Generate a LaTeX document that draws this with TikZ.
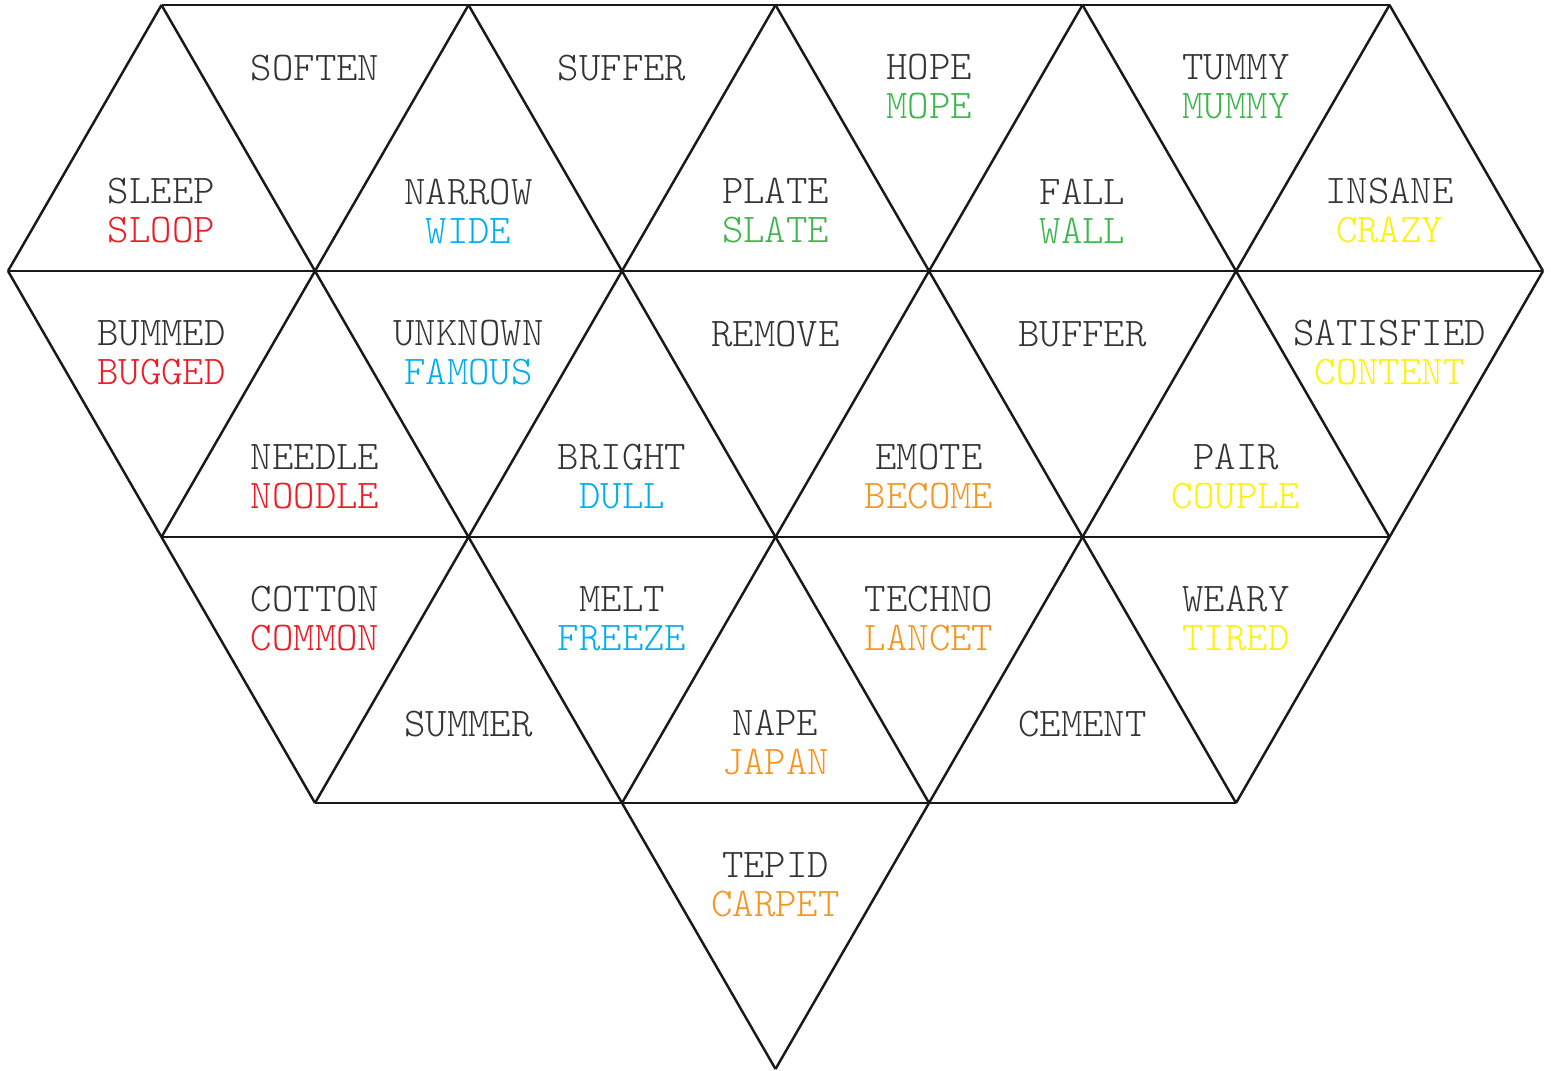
\documentclass[tikz,border=0pt]{standalone}
\usepackage{xcolor}
\usepackage{tikz}

\definecolor{wordgray}{HTML}{333333}
\definecolor{wred}{HTML}{ED1C24}
\definecolor{wblue}{HTML}{00AEEF}
\definecolor{wgreen}{HTML}{3DB54A}
\definecolor{worange}{HTML}{F7941D}
\definecolor{wyellow}{HTML}{FFF200}

\newcommand{\wordpair}[3]{#1\\\textcolor{#3}{#2}}

\tikzset{
    edge/.style={draw=black!90, line width=0.7pt},
    word/.style={align=center, inner sep=0pt, text=wordgray,
        font=\ttfamily\fontseries{l}\fontsize{11.6}{11.1}\selectfont}
}

\begin{document}
\begin{tikzpicture}
    \useasboundingbox (0,0) rectangle (15.51,10.70);

    % Lineas horizontales
    \draw[edge] (1.615,10.65) -- (13.895,10.65);
    \draw[edge] (0.08,7.99) -- (15.43,7.99);
    \draw[edge] (1.615,5.33) -- (13.895,5.33);
    \draw[edge] (3.15,2.67) -- (12.36,2.67);

    % Diagonales hacia abajo a la derecha
    \draw[edge] (1.615,10.65) -- (7.755,0.01);
    \draw[edge] (4.685,10.65) -- (9.29,2.67);
    \draw[edge] (7.755,10.65) -- (12.36,2.67);
    \draw[edge] (10.825,10.65) -- (13.895,5.33);
    \draw[edge] (13.895,10.65) -- (15.43,7.99);
    \draw[edge] (0.08,7.99) -- (3.15,2.67);

    % Diagonales hacia abajo a la izquierda
    \draw[edge] (1.615,10.65) -- (0.08,7.99);
    \draw[edge] (4.685,10.65) -- (1.615,5.33);
    \draw[edge] (7.755,10.65) -- (3.15,2.67);
    \draw[edge] (10.825,10.65) -- (6.22,2.67);
    \draw[edge] (13.895,10.65) -- (7.755,0.01);
    \draw[edge] (15.43,7.99) -- (12.36,2.67);

    % Primera fila
    \node[word] (sleep) at (1.615,8.59) {\wordpair{SLEEP}{SLOOP}{wred}};
    \node[word] (soften) at (3.15,10.02) {SOFTEN};
    \node[word] (narrow) at (4.685,8.59) {\wordpair{NARROW}{WIDE}{wblue}};
    \node[word] (suffer) at (6.22,10.02) {SUFFER};
    \node[word] (plate) at (7.755,8.59) {\wordpair{PLATE}{SLATE}{wgreen}};
    \node[word] (hope) at (9.29,9.83) {\wordpair{HOPE}{MOPE}{wgreen}};
    \node[word] (fall) at (10.825,8.59) {\wordpair{FALL}{WALL}{wgreen}};
    \node[word] (tummy) at (12.36,9.83) {\wordpair{TUMMY}{MUMMY}{wgreen}};
    \node[word] (insane) at (13.895,8.59) {\wordpair{INSANE}{CRAZY}{wyellow}};

    % Segunda fila
    \node[word] (bummed) at (1.615,7.17) {\wordpair{BUMMED}{BUGGED}{wred}};
    \node[word] (needle) at (3.15,5.93) {\wordpair{NEEDLE}{NOODLE}{wred}};
    \node[word] (unknown) at (4.685,7.17) {\wordpair{UNKNOWN}{FAMOUS}{wblue}};
    \node[word] (bright) at (6.22,5.93) {\wordpair{BRIGHT}{DULL}{wblue}};
    \node[word] (remove) at (7.755,7.36) {REMOVE};
    \node[word] (emote) at (9.29,5.93) {\wordpair{EMOTE}{BECOME}{worange}};
    \node[word] (buffer) at (10.825,7.36) {BUFFER};
    \node[word] (pair) at (12.36,5.93) {\wordpair{PAIR}{COUPLE}{wyellow}};
    \node[word] (satisfied) at (13.895,7.17) {\wordpair{SATISFIED}{CONTENT}{wyellow}};

    % Tercera fila
    \node[word] (cotton) at (3.15,4.51) {\wordpair{COTTON}{COMMON}{wred}};
    \node[word] (summer) at (4.685,3.46) {SUMMER};
    \node[word] (melt) at (6.22,4.51) {\wordpair{MELT}{FREEZE}{wblue}};
    \node[word] (nape) at (7.755,3.27) {\wordpair{NAPE}{JAPAN}{worange}};
    \node[word] (techno) at (9.29,4.51) {\wordpair{TECHNO}{LANCET}{worange}};
    \node[word] (cement) at (10.825,3.46) {CEMENT};
    \node[word] (weary) at (12.36,4.51) {\wordpair{WEARY}{TIRED}{wyellow}};

    % Ultima fila
    \node[word] (tepid) at (7.755,1.85) {\wordpair{TEPID}{CARPET}{worange}};

\end{tikzpicture}
\end{document}
